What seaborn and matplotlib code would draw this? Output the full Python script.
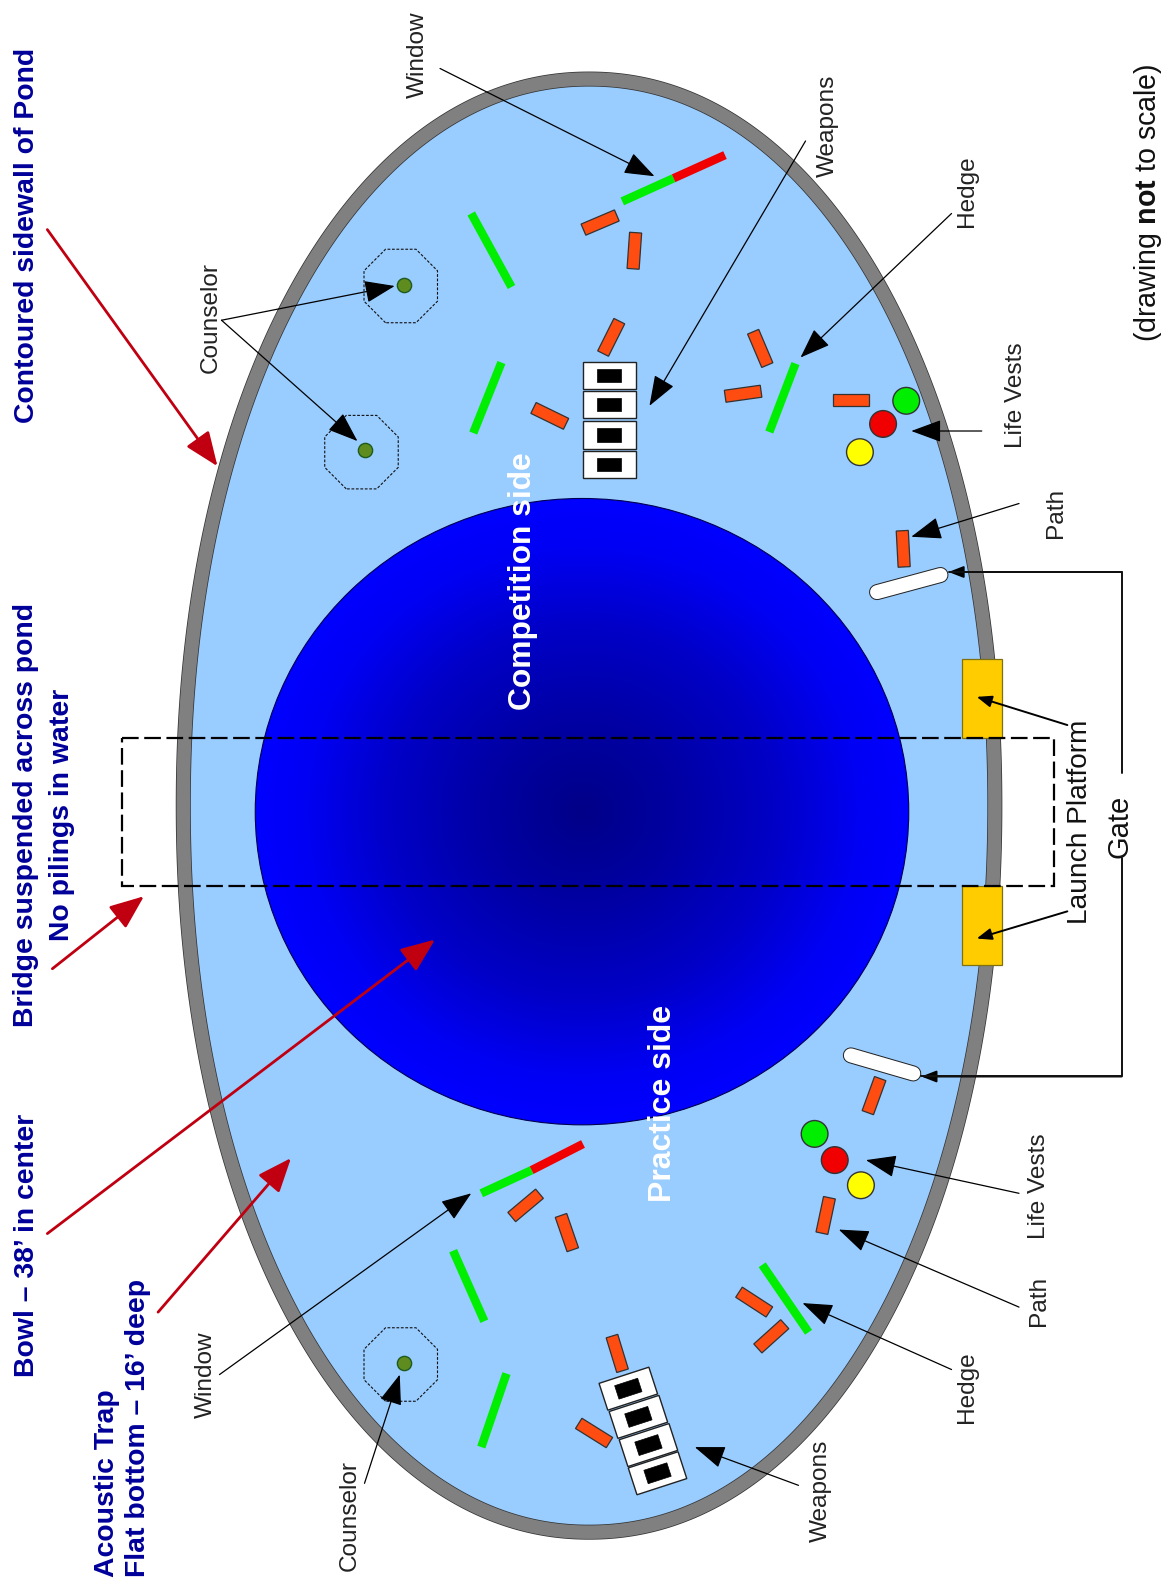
import matplotlib
matplotlib.use("Agg")
import numpy as np
import pandas as pd
import matplotlib.pyplot as plt
import seaborn as sns
from matplotlib.colors import LinearSegmentedColormap
from matplotlib.patches import Ellipse, Polygon, Rectangle, RegularPolygon
from matplotlib.transforms import Affine2D

vest_x = [900, 877, 854, 809, 829, 855]
vest_y = [398, 421, 449, 1126, 1152, 1177]
vest_kind = ["green", "red", "yellow", "green", "red", "yellow"]

counselor_x = [401, 362, 401]
counselor_y = [283, 447, 1354]
zone_x = [398, 359, 398]
zone_y = [284, 449, 1355]

# x, y, angle
orange_bars = [(596, 221, -23), (630, 249, 94), (607, 335, 116.6), (755, 346, 67),
               (738, 391, -8), (845, 397, 0), (546, 413, 26), (897, 545, 87),
               (868, 1088, 110), (820, 1207, 102), (522, 1197, -40), (563, 1224, 71),
               (749, 1293, 33), (766, 1327, -42), (613, 1344, 73), (590, 1423, 32)]

green_bars = [(618, 200, 669, 177), (790, 361, 764, 429), (468, 212, 508, 285),
              (498, 360, 470, 430), (478, 1185, 528, 1162), (757, 1256, 803, 1323),
              (450, 1242, 481, 1312), (503, 1364, 478, 1437)]
red_bars = [(669, 177, 720, 154), (528, 1162, 579, 1136)]

gates = [(871, 588, 934, 571), (845, 1048, 907, 1066)]
platforms_y = [(654, 733), (880, 958)]

top_tanks = [(605, 373), (605, 402), (605, 432), (605, 461)]
bottom_tanks = [(624, 1379), (634, 1407), (644, 1435), (653, 1463)]

black_arrows = [(437, 68, 650, 175), (800, 140, 645, 403), (945, 212, 795, 355),
                (975, 428, 905, 428), (1012, 500, 905, 533), (220, 318, 392, 284),
                (220, 318, 355, 438), (218, 1365, 468, 1185), (362, 1473, 397, 1365),
                (793, 1475, 690, 1437), (945, 1360, 797, 1294), (1012, 1298, 833, 1221),
                (1012, 1185, 860, 1152)]
small_arrows = [(1060, 720, 970, 692), (1060, 905, 970, 932),
                (1114, 568, 942, 568), (1114, 1069, 915, 1069)]
red_arrows = [(47, 228, 216, 463), (52, 962, 143, 890), (47, 1225, 432, 933),
              (157, 1303, 289, 1150)]

thin_labels = [("Window", 413, 54), ("Weapons", 820, 125), ("Hedge", 958, 190),
               ("Counselor", 207, 315), ("Life Vests", 1007, 392), ("Path", 1047, 509),
               ("Window", 202, 1365), ("Counselor", 345, 1505), ("Weapons", 813, 1480),
               ("Hedge", 958, 1378), ("Path", 1030, 1292), ("Life Vests", 1030, 1178)]

sns.set_theme(style="white")
plt.rcParams["font.family"] = ["Liberation Sans", "DejaVu Sans"]
plt.rcParams["mathtext.fontset"] = "custom"
plt.rcParams["mathtext.rm"] = "Liberation Sans"
plt.rcParams["mathtext.bf"] = "Liberation Sans:bold"

PX = 0.72  # points per pixel at dpi 100
NAVY = "#00009A"
ORANGE = "#FF4C10"

fig = plt.figure(figsize=(11.64, 15.79), dpi=100)
ax = fig.add_axes([0, 0, 1, 1])


def rot_rect(cx, cy, w, h, angle, **kw):
    tr = Affine2D().rotate_deg_around(cx, cy, angle) + ax.transData
    ax.add_patch(Rectangle((cx - w / 2, cy - h / 2), w, h, transform=tr, **kw))


def arrow(seg, color="black", lw=1.0, head="-|>,head_length=1.9,head_width=0.7"):
    ax.annotate("", xy=seg[2:], xytext=seg[:2],
                arrowprops=dict(arrowstyle=head, color=color, lw=lw, shrinkA=0, shrinkB=0,
                                mutation_scale=10))


ax.set_xlim(0, 1156)
ax.set_ylim(1568, 0)

# pond, a touch squarer than a true ellipse; wall is a stroke of one thickness
t = np.linspace(0, 2 * np.pi, 721)
n = 2.07
px = 585 + 403 * np.sign(np.cos(t)) * np.abs(np.cos(t)) ** (2 / n)
py = 800 + 721.5 * np.sign(np.sin(t)) * np.abs(np.sin(t)) ** (2 / n)
outline = np.column_stack([px, py])
ax.add_patch(Polygon(outline, closed=True, fc="#99CCFF", ec="#333333", lw=15 * PX, zorder=1))
ax.add_patch(Polygon(outline, closed=True, fc="none", ec="#808080", lw=13.5 * PX, zorder=1.1))

# bowl with radial shading
bowl = Ellipse((578, 806), 649, 622, fc="none", ec="#000050", lw=0.8, zorder=2.1)
ax.add_patch(bowl)
gx, gy = np.meshgrid(np.linspace(-1, 1, 400), np.linspace(-1, 1, 400))
shade = LinearSegmentedColormap.from_list(
    "bowl", [(0, "#000088"), (0.3, "#0000A4"), (0.6, "#0000C8"), (0.85, "#0000F4"), (1, "#0000FF")])
im = ax.imshow(np.hypot(gx, gy), extent=(253, 903, 1117, 495), cmap=shade, vmin=0, vmax=1,
               aspect="auto", zorder=2, interpolation="bilinear")
im.set_clip_path(bowl)
ax.set_xlim(0, 1156)
ax.set_ylim(1568, 0)

# launch platforms
for y0, y1 in platforms_y:
    ax.add_patch(Rectangle((955, y0), 40, y1 - y0, fc="#FFCC00", ec="#7F7010", lw=0.9, zorder=3))

# bridge outline
ax.add_patch(Rectangle((121, 733), 926, 147, fc="none", ec="black", lw=1.6,
                       ls=(0, (7.5, 2.5)), zorder=4))

# hedges and windows
for x0, y0, x1, y1 in green_bars:
    ax.plot([x0, x1], [y0, y1], color="#00EE00", lw=8.5 * PX, solid_capstyle="butt", zorder=3)
for x0, y0, x1, y1 in red_bars:
    ax.plot([x0, x1], [y0, y1], color="#F00000", lw=8.5 * PX, solid_capstyle="butt", zorder=3)

for x, y, ang in orange_bars:
    rot_rect(x, y, 36, 12, ang, fc=ORANGE, ec="#333333", lw=0.9, zorder=3)

# weapons
for x, y in top_tanks:
    rot_rect(x, y, 53, 27, 0, fc="white", ec="#222222", lw=1.0, zorder=3)
    rot_rect(x, y, 24, 13, 0, fc="black", ec="black", lw=0.5, zorder=3.1)
for x, y in bottom_tanks:
    rot_rect(x, y, 52, 28, -18, fc="white", ec="#222222", lw=1.0, zorder=3)
    rot_rect(x, y, 24, 14, -18, fc="black", ec="black", lw=0.5, zorder=3.1)

# gates
for x0, y0, x1, y1 in gates:
    ax.plot([x0, x1], [y0, y1], color="#222222", lw=16 * PX, solid_capstyle="round", zorder=3)
    ax.plot([x0, x1], [y0, y1], color="white", lw=14 * PX, solid_capstyle="round", zorder=3.1)

# counselor zones
for x, y in zip(zone_x, zone_y):
    ax.add_patch(RegularPolygon((x, y), 8, radius=39.5, orientation=np.pi / 8, fc="none",
                                ec="#111111", lw=0.8, ls=(0, (2.5, 1.5)), zorder=3))

vests = pd.DataFrame({"x": vest_x, "y": vest_y, "kind": vest_kind})
sns.scatterplot(data=vests, x="x", y="y", hue="kind", s=370, edgecolor="#333333", linewidth=1.0,
                palette={"green": "#00EE00", "red": "#F00000", "yellow": "#FFFF00"},
                legend=False, ax=ax, zorder=5)
counselors = pd.DataFrame({"x": counselor_x, "y": counselor_y})
sns.scatterplot(data=counselors, x="x", y="y", color="#5E8C1E", s=105, edgecolor="#1F5A1F",
                linewidth=1.0, legend=False, ax=ax, zorder=5)

# gate bracket
ax.plot([942, 1114, 1114], [568, 568, 768], color="#111111", lw=1.4, zorder=5)
ax.plot([915, 1114, 1114], [1069, 1069, 852], color="#111111", lw=1.4, zorder=5)

for seg in black_arrows:
    arrow(seg, color="black", lw=0.9)
for seg in small_arrows:
    arrow(seg, color="black", lw=1.4, head="-|>,head_length=0.9,head_width=0.35")
for seg in red_arrows:
    arrow(seg, color="#C00010", lw=2.0, head="-|>,head_length=2.1,head_width=0.85")

for label, x, y in thin_labels:
    ax.text(x + 2, y, label, rotation=90, ha="center", va="center", fontsize=17.6, color="#222222", zorder=6)
ax.text(1073, 816, "Launch Platform", rotation=90, ha="center", va="center", fontsize=20.2, color="#111111", zorder=6)
ax.text(1112, 821, "Gate", rotation=90, ha="center", va="center", fontsize=21, color="#111111", zorder=6)

ax.text(519, 577, "Competition side", rotation=90, ha="center", va="center", fontsize=22.9,
        fontweight="bold", color="white", zorder=6)
ax.text(658, 1096, "Practice side", rotation=90, ha="center", va="center", fontsize=23,
        fontweight="bold", color="white", zorder=6)

ax.text(27, 234, "Contoured sidewall of Pond", rotation=90, ha="center", va="center", fontsize=20.4,
        fontweight="bold", color=NAVY, zorder=6)
ax.text(44, 809, "Bridge suspended across pond\nNo pilings in water", rotation=90, ha="center",
        va="center", ma="center", linespacing=1.5, fontsize=20.4, fontweight="bold", color=NAVY, zorder=6)
ax.text(27, 1237, "Bowl – 38’ in center", rotation=90, ha="center", va="center", fontsize=20.4,
        fontweight="bold", color=NAVY, zorder=6)
ax.text(122, 1566, "Acoustic Trap\nFlat bottom – 16’ deep", rotation=90, ha="center", va="bottom",
        ma="left", linespacing=1.25, fontsize=20.4, fontweight="bold", color=NAVY, zorder=6)
ax.text(1140, 201, r"(drawing $\mathbf{not}$ to scale)", rotation=90, ha="center", va="center",
        fontsize=20.6, color="#111111", zorder=6)

ax.set_axis_off()
fig.savefig("out.png", dpi=100)
